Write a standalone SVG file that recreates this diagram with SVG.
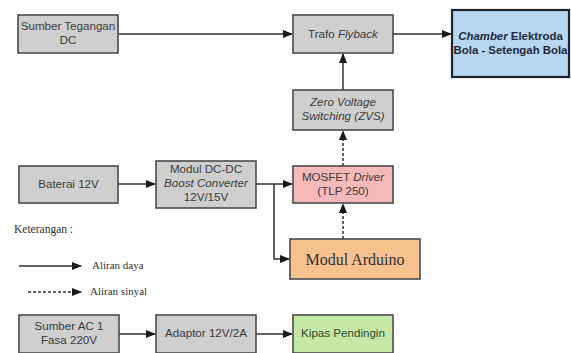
<svg xmlns="http://www.w3.org/2000/svg" width="571" height="353" viewBox="0 0 571 353">
<style>
.box{fill:#cfcfcf;stroke:#4a4a4a;stroke-width:1.6}
.t{font-family:"Liberation Sans",Arial,sans-serif;font-size:11.6px;fill:#3a3a3a;text-anchor:middle}
.i{font-style:italic}
.line{stroke:#333;stroke-width:1.5;fill:none}
.dash{stroke:#333;stroke-width:1.5;fill:none;stroke-dasharray:3,2}
.serif{font-family:"Liberation Serif","Times New Roman",serif;fill:#333}
</style>
<defs>
<marker id="ah" markerWidth="10" markerHeight="8" refX="9" refY="4" orient="auto" markerUnits="userSpaceOnUse">
<path d="M0,0 L10,4 L0,8 Z" fill="#1a1a1a"/>
</marker>
</defs>
<rect width="571" height="353" fill="#ffffff"/>
<g id="connectors">
<path class="line" d="M119,34 H292" marker-end="url(#ah)"/>
<path class="line" d="M393,34 H451" marker-end="url(#ah)"/>
<path class="line" d="M343,90 V54" marker-end="url(#ah)"/>
<path class="dash" d="M343,166 V131" marker-end="url(#ah)"/>
<path class="dash" d="M343,239 V204" marker-end="url(#ah)"/>
<path class="line" d="M118,184 H155" marker-end="url(#ah)"/>
<path class="line" d="M256,184 H292" marker-end="url(#ah)"/>
<path class="line" d="M274,184 V259 H289" marker-end="url(#ah)"/>
<path class="line" d="M119,334 H155" marker-end="url(#ah)"/>
<path class="line" d="M256,334 H292" marker-end="url(#ah)"/>
</g>
<g id="sumber-dc">
<rect class="box" x="18" y="15" width="100" height="38"/>
<text class="t" x="68" y="30">Sumber Tegangan</text>
<text class="t" x="68" y="44">DC</text>
</g>
<g id="trafo">
<rect class="box" x="293" y="15" width="100" height="38"/>
<text class="t" x="343" y="38">Trafo <tspan class="i">Flyback</tspan></text>
</g>
<g id="chamber">
<rect x="452" y="10" width="117" height="67" fill="#b8d6ef" stroke="#1c2330" stroke-width="2.2"/>
<text class="t" x="510.5" y="40" style="font-weight:bold;fill:#1e2a3c;font-size:11.4px"><tspan class="i">Chamber</tspan> Elektroda</text>
<text class="t" x="510.5" y="54" style="font-weight:bold;fill:#1e2a3c;font-size:11.4px">Bola - Setengah Bola</text>
</g>
<g id="zvs">
<rect class="box" x="293" y="90" width="100" height="40"/>
<text class="t i" x="343" y="106">Zero Voltage</text>
<text class="t i" x="343" y="120">Switching (ZVS)</text>
</g>
<g id="baterai">
<rect class="box" x="19" y="166" width="99" height="37"/>
<text class="t" x="68.5" y="188">Baterai 12V</text>
</g>
<g id="dcdc">
<rect class="box" x="156" y="161" width="100" height="47"/>
<text class="t" x="206" y="173">Modul DC-DC</text>
<text class="t i" x="206" y="187">Boost Converter</text>
<text class="t" x="206" y="201">12V/15V</text>
</g>
<g id="mosfet">
<rect x="293" y="166" width="100" height="37" fill="#f6b9b9" stroke="#4a4a4a" stroke-width="1.6"/>
<text class="t" x="343" y="181">MOSFET <tspan class="i">Driver</tspan></text>
<text class="t" x="343" y="195">(TLP 250)</text>
</g>
<g id="arduino">
<rect x="290" y="239" width="130" height="40" fill="#f8c190" stroke="#4a4a4a" stroke-width="1.6"/>
<text class="serif" x="355" y="265" font-size="16" text-anchor="middle">Modul Arduino</text>
</g>
<g id="legend">
<text class="serif" x="14" y="233" font-size="11.5">Keterangan :</text>
<path class="line" d="M19,266 H81" marker-end="url(#ah)"/>
<text class="serif" x="92" y="269" font-size="11">Aliran daya</text>
<path class="dash" d="M28,292 H81" marker-end="url(#ah)"/>
<text class="serif" x="90" y="295" font-size="11">Aliran sinyal</text>
</g>
<g id="sumber-ac">
<rect class="box" x="19" y="315" width="100" height="38"/>
<text class="t" x="69" y="330">Sumber AC 1</text>
<text class="t" x="69" y="344">Fasa 220V</text>
</g>
<g id="adaptor">
<rect class="box" x="156" y="315" width="100" height="38"/>
<text class="t" x="206" y="337">Adaptor 12V/2A</text>
</g>
<g id="kipas">
<rect x="293" y="315" width="100" height="38" fill="#c6e8a6" stroke="#4a4a4a" stroke-width="1.6"/>
<text class="t" x="343" y="337" style="fill:#2d4a2a">Kipas Pendingin</text>
</g>
</svg>
